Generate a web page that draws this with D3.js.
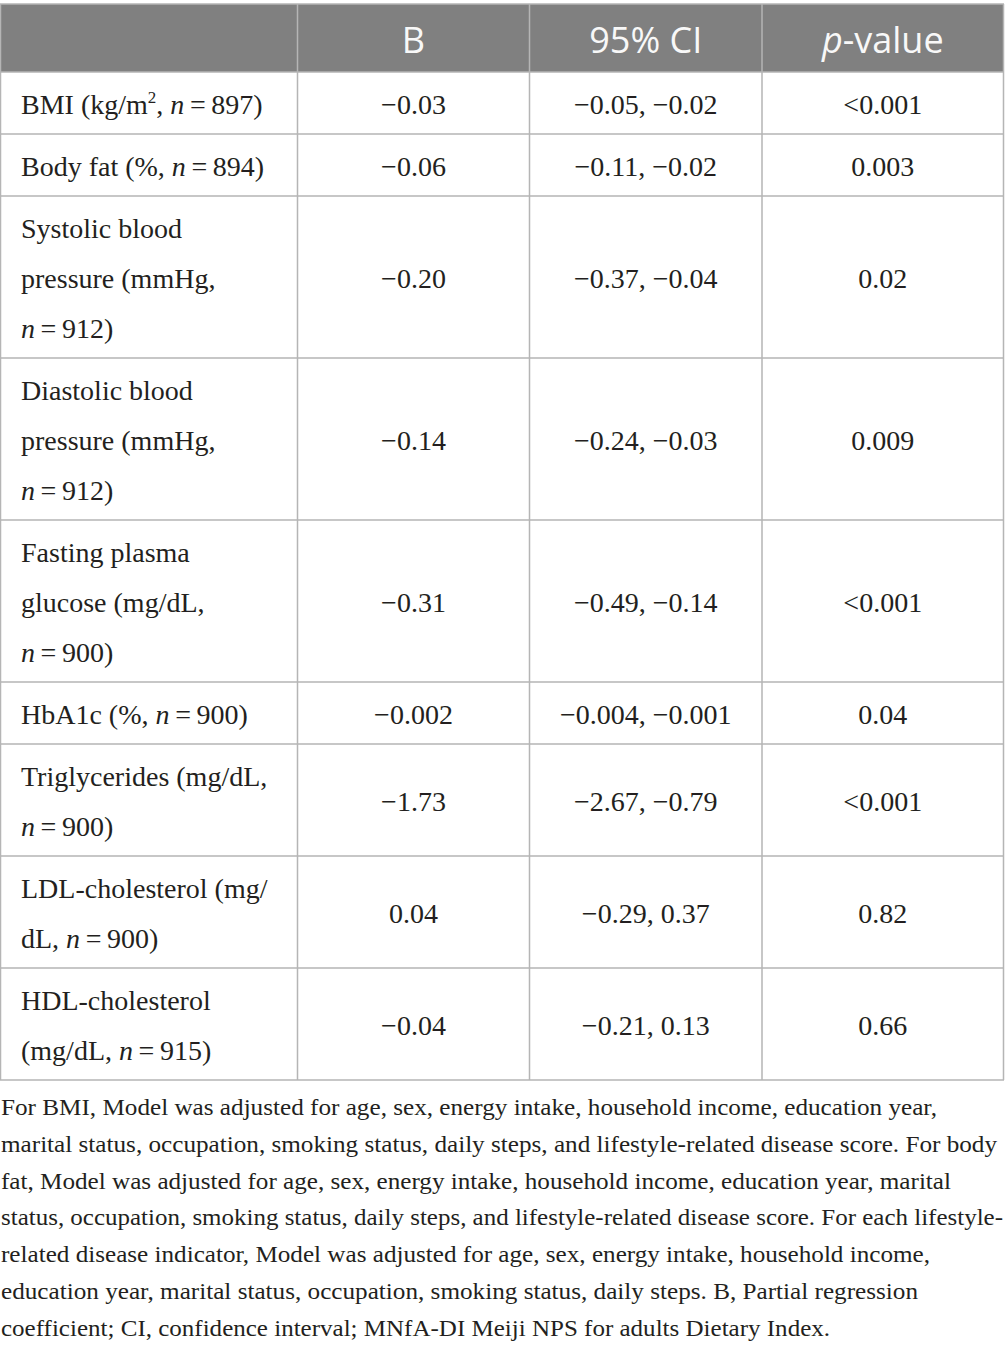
<!DOCTYPE html>
<html><head><meta charset="utf-8">
<script src="https://cdn.jsdelivr.net/npm/d3@7"></script>
<style>html,body{margin:0;padding:0;background:#fff}svg{display:block}</style>
</head><body>
<script>
// ---- data ----
const headers = ["", "B", "95% CI", "p-value"];
// label lines: segments [text, italic?, superscript?]
const EQ = "\u2009=\u2009";
const labels = [
  [[["BMI (kg/m"],["2",0,1],[", "],["n",1],[EQ+"897)"]]],
  [[["Body fat (%, "],["n",1],[EQ+"894)"]]],
  [[["Systolic blood"]],[["pressure (mmHg,"]],[["n",1],[EQ+"912)"]]],
  [[["Diastolic blood"]],[["pressure (mmHg,"]],[["n",1],[EQ+"912)"]]],
  [[["Fasting plasma"]],[["glucose (mg/dL,"]],[["n",1],[EQ+"900)"]]],
  [[["HbA1c (%, "],["n",1],[EQ+"900)"]]],
  [[["Triglycerides (mg/dL,"]],[["n",1],[EQ+"900)"]]],
  [[["LDL-cholesterol (mg/"]],[["dL, "],["n",1],[EQ+"900)"]]],
  [[["HDL-cholesterol"]],[["(mg/dL, "],["n",1],[EQ+"915)"]]]
];
const bValues = ["\u22120.03","\u22120.06","\u22120.20","\u22120.14","\u22120.31","\u22120.002","\u22121.73","0.04","\u22120.04"];
const ciValues = ["\u22120.05, \u22120.02","\u22120.11, \u22120.02","\u22120.37, \u22120.04","\u22120.24, \u22120.03","\u22120.49, \u22120.14","\u22120.004, \u22120.001","\u22122.67, \u22120.79","\u22120.29, 0.37","\u22120.21, 0.13"];
const pValues = ["<0.001","0.003","0.02","0.009","<0.001","0.04","<0.001","0.82","0.66"];
const footnote = [
  "For BMI, Model was adjusted for age, sex, energy intake, household income, education year,",
  "marital status, occupation, smoking status, daily steps, and lifestyle-related disease score. For body",
  "fat, Model was adjusted for age, sex, energy intake, household income, education year, marital",
  "status, occupation, smoking status, daily steps, and lifestyle-related disease score. For each lifestyle-",
  "related disease indicator, Model was adjusted for age, sex, energy intake, household income,",
  "education year, marital status, occupation, smoking status, daily steps. B, Partial regression",
  "coefficient; CI, confidence interval; MNfA-DI Meiji NPS for adults Dietary Index."
];
const footWidths = [936, 996, 950, 1002, 929, 917, 829];

// ---- layout ----
const W = 1005, H = 1354;
const svg = d3.select("body").append("svg").attr("width", W).attr("height", H);
const colEdges = [0.5, 297.5, 529.5, 762, 1003.5];
const headTop = 4, headBottom = 72, lineH = 50, pad = 12;
const rowTops = [headBottom];
labels.forEach(l => rowTops.push(rowTops[rowTops.length-1] + pad + lineH*l.length));
const tableBottom = rowTops[rowTops.length-1];
const serif = "'Liberation Serif','Times New Roman',serif";
const sans = "'Open Sans','Noto Sans',sans-serif";
const gridC = "#b5b5b5";
const ink = "#231f20";

// header
svg.append("rect").attr("x",0).attr("y",headTop).attr("width",1004).attr("height",headBottom-headTop).attr("fill","#808080");
headers.forEach((h,i)=>{
  if(!h) return;
  const t = svg.append("text").attr("x",(colEdges[i]+colEdges[i+1])/2).attr("y",53)
    .attr("text-anchor","middle").attr("fill","#f8f8f8").attr("font-family",sans).attr("font-size",36);
  if(h==="p-value"){ t.append("tspan").attr("font-style","italic").text("p"); t.append("tspan").text("-value"); }
  else t.text(h);
});

// rows
labels.forEach((lines,r)=>{
  const top = rowTops[r], bot = rowTops[r+1], mid = (top+bot)/2;
  lines.forEach((segs,li)=>{
    const t = svg.append("text").attr("x",21).attr("y",top+42+lineH*li)
      .attr("font-family",serif).attr("font-size",28).attr("fill",ink);
    segs.forEach((s,k)=>{
      const sp = t.append("tspan").text(s[0]);
      if(s[1]) sp.attr("font-style","italic");
      if(s[2]) sp.attr("font-size",17).attr("dy",-11);
      else if(k>0 && segs[k-1][2]) sp.attr("dy",11);
    });
  });
  [bValues[r], ciValues[r], pValues[r]].forEach((v,c)=>{
    svg.append("text").attr("x",(colEdges[c+1]+colEdges[c+2])/2).attr("y",mid+10.5)
      .attr("text-anchor","middle").attr("font-family",serif).attr("font-size",28).attr("fill",ink).text(v);
  });
});

// grid lines
const g = svg.append("g").attr("stroke",gridC).attr("stroke-width",1.5);
rowTops.forEach(y=> g.append("line").attr("x1",0).attr("x2",1004).attr("y1",y).attr("y2",y));
g.append("line").attr("x1",0).attr("x2",1004).attr("y1",headTop).attr("y2",headTop);
colEdges.forEach(x=>{
  g.append("line").attr("x1",x).attr("x2",x).attr("y1",headTop).attr("y2",tableBottom);
});

// footnote
footnote.forEach((s,i)=>{
  svg.append("text").attr("x",1).attr("y",1115+36.8*i).attr("font-family",serif).attr("font-size",24)
    .attr("fill",ink).attr("textLength",footWidths[i]).attr("lengthAdjust","spacingAndGlyphs").text(s);
});
</script>
</body></html>
